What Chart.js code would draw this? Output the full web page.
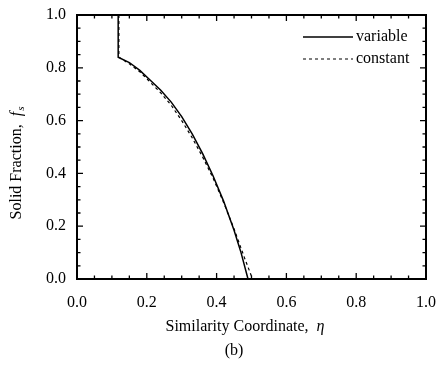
<!DOCTYPE html>
<html>
<head>
<meta charset="utf-8">
<script src="https://cdn.jsdelivr.net/npm/chart.js@4/dist/chart.umd.min.js"></script>
<style>
  html, body { margin: 0; padding: 0; background: #fff; }
  #wrap { width: 442px; height: 365px; position: relative; }
</style>
</head>
<body>
<div id="wrap"><canvas id="myChart" width="442" height="365"></canvas></div>
<script>
// similarity coordinate (eta) and solid fraction values
const variableEta = [0.118, 0.118, 0.15, 0.18, 0.21, 0.24, 0.27, 0.30, 0.33, 0.36, 0.39, 0.42, 0.45, 0.47, 0.49];
const variableFs  = [1.0, 0.84, 0.82, 0.79, 0.753, 0.715, 0.67, 0.615, 0.55, 0.475, 0.39, 0.295, 0.185, 0.10, 0.0];
const constantEta = [0.12, 0.12, 0.15, 0.18, 0.21, 0.24, 0.27, 0.30, 0.33, 0.36, 0.39, 0.42, 0.45, 0.48, 0.503];
const constantFs  = [1.0, 0.84, 0.815, 0.785, 0.745, 0.705, 0.658, 0.60, 0.535, 0.462, 0.382, 0.29, 0.19, 0.08, 0.0];
const tickValues = [0.0, 0.2, 0.4, 0.6, 0.8, 1.0];
const seriesNames = ['variable', 'constant'];

const serif = '"Liberation Serif", "DejaVu Serif", serif';

function toPoints(xs, ys) {
    return xs.map((x, i) => ({ x: x, y: ys[i] }));
}

// frame, inward ticks, axis titles, legend and the "(b)" caption
const decorations = {
    id: 'decorations',
    afterDraw(chart) {
        const ctx = chart.ctx;
        const area = chart.chartArea;
        const xs = chart.scales.x;
        const ys = chart.scales.y;
        ctx.save();
        ctx.strokeStyle = '#000';
        ctx.lineWidth = 2;
        ctx.strokeRect(area.left, area.top, area.right - area.left, area.bottom - area.top);

        ctx.lineWidth = 1.3;
        for (let i = 1; i < 20; i++) {
            const v = i * 0.05;
            const len = (i % 4 === 0) ? 6 : 3.5;
            const px = xs.getPixelForValue(v);
            const py = ys.getPixelForValue(v);
            ctx.beginPath();
            ctx.moveTo(px, area.bottom); ctx.lineTo(px, area.bottom - len);
            ctx.moveTo(px, area.top); ctx.lineTo(px, area.top + len);
            ctx.moveTo(area.left, py); ctx.lineTo(area.left + len, py);
            ctx.moveTo(area.right, py); ctx.lineTo(area.right - len, py);
            ctx.stroke();
        }

        ctx.fillStyle = '#000';
        ctx.textBaseline = 'middle';

        // x title
        const xt = 'Similarity Coordinate,  ';
        ctx.font = 'italic 16px ' + serif;
        const etaW = ctx.measureText('\u03b7').width;
        ctx.font = '16px ' + serif;
        const xtW = ctx.measureText(xt).width;
        let sx = 245 - (xtW + etaW) / 2;
        ctx.textAlign = 'left';
        ctx.fillText(xt, sx, 327);
        ctx.font = 'italic 16px ' + serif;
        ctx.fillText('\u03b7', sx + xtW, 327);

        // caption
        ctx.font = '16px ' + serif;
        ctx.textAlign = 'center';
        ctx.fillText('(b)', 234, 351);

        // y title (rotated)
        ctx.save();
        ctx.translate(17, 163);
        ctx.rotate(-Math.PI / 2);
        const yt = 'Solid Fraction,  ';
        ctx.font = '16px ' + serif;
        const ytW = ctx.measureText(yt).width;
        ctx.font = 'italic 16px ' + serif;
        const fW = ctx.measureText('f').width;
        ctx.font = 'italic 11px ' + serif;
        const sW = ctx.measureText('s').width;
        let sy = -(ytW + fW + sW + 1) / 2;
        ctx.textAlign = 'left';
        ctx.font = '16px ' + serif;
        ctx.fillText(yt, sy, 0);
        ctx.font = 'italic 16px ' + serif;
        ctx.fillText('f', sy + ytW, 0);
        ctx.font = 'italic 11px ' + serif;
        ctx.fillText('s', sy + ytW + fW + 1, 4);
        ctx.restore();

        // legend
        chart.data.datasets.forEach((ds, i) => {
            const ly = 37 + i * 22;
            ctx.beginPath();
            ctx.lineWidth = ds.borderWidth;
            ctx.setLineDash(ds.borderDash || []);
            ctx.moveTo(303, ly);
            ctx.lineTo(353, ly);
            ctx.stroke();
            ctx.setLineDash([]);
            ctx.font = '16px ' + serif;
            ctx.textAlign = 'left';
            ctx.fillText(ds.label, 356, ly);
        });
        ctx.restore();
    }
};

const ctx = document.getElementById('myChart').getContext('2d');
new Chart(ctx, {
    type: 'scatter',
    data: {
        datasets: [
            {
                label: seriesNames[0],
                data: toPoints(variableEta, variableFs),
                showLine: true,
                borderColor: '#000',
                borderWidth: 1.5,
                pointRadius: 0,
                fill: false,
            },
            {
                label: seriesNames[1],
                data: toPoints(constantEta, constantFs),
                showLine: true,
                borderColor: '#000',
                borderWidth: 1.2,
                borderDash: [3, 3],
                pointRadius: 0,
                fill: false,
            }
        ]
    },
    options: {
        responsive: false,
        animation: false,
        layout: { padding: { top: 15, right: 16, left: 0, bottom: 0 } },
        plugins: {
            legend: { display: false },
            tooltip: { enabled: false }
        },
        scales: {
            x: {
                type: 'linear',
                min: 0, max: 1,
                afterFit(scale) {
                    scale.height = 86;
                    scale.paddingLeft = 0;
                    scale.paddingRight = 0;
                },
                afterBuildTicks(scale) { scale.ticks = tickValues.map(v => ({ value: v })); },
                grid: { display: false, drawTicks: false },
                border: { display: false },
                ticks: {
                    padding: 14,
                    color: '#000',
                    font: { family: serif, size: 16 },
                    callback: v => v.toFixed(1)
                }
            },
            y: {
                type: 'linear',
                min: 0, max: 1,
                afterFit(scale) {
                    scale.width = 77;
                    scale.paddingTop = 0;
                    scale.paddingBottom = 0;
                },
                afterBuildTicks(scale) { scale.ticks = tickValues.map(v => ({ value: v })); },
                grid: { display: false, drawTicks: false },
                border: { display: false },
                ticks: {
                    padding: 11,
                    color: '#000',
                    font: { family: serif, size: 16 },
                    callback: v => v.toFixed(1)
                }
            }
        }
    },
    plugins: [decorations]
});
</script>
</body>
</html>
